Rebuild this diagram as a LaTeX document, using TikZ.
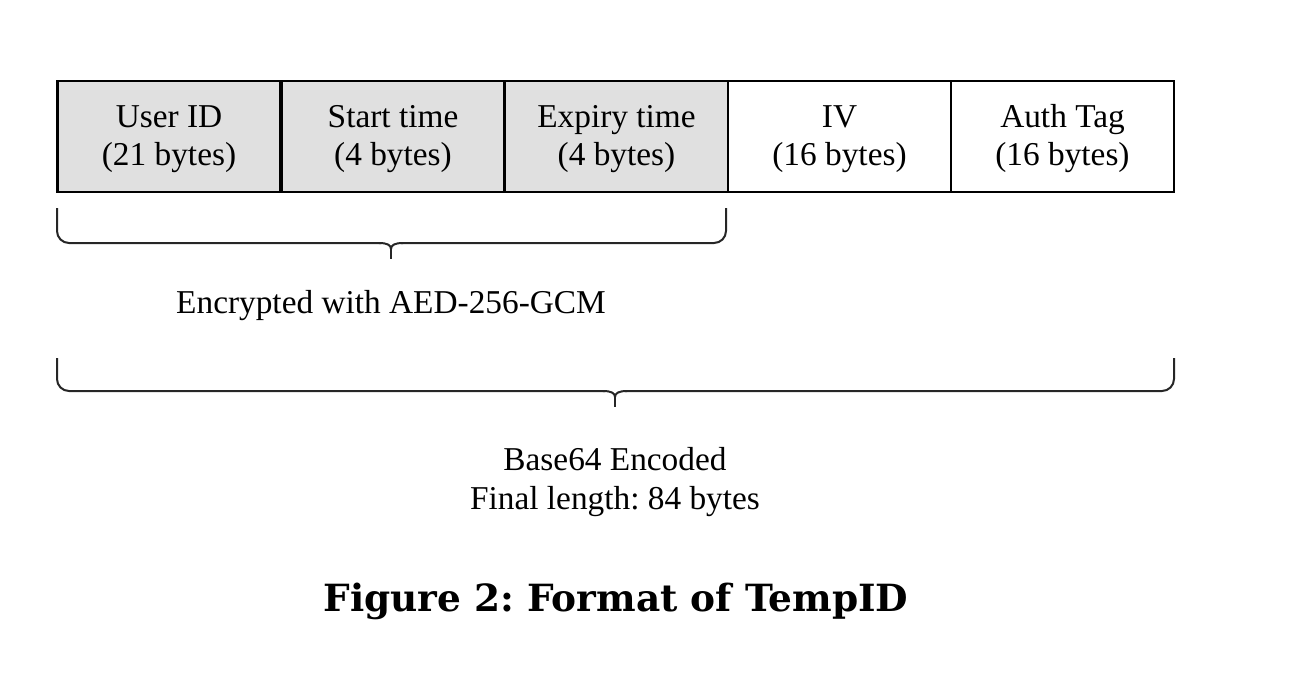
\documentclass[tikz,border=0pt]{standalone}
\usepackage{fontspec}
\setmainfont{Liberation Serif}
\newfontfamily\capfont{DejaVu Serif}
\frenchspacing
\begin{document}
\begin{tikzpicture}[x=0.75pt,y=-0.75pt,
  cell/.style={draw=black,line width=1.8pt,minimum height=83.25pt,minimum width=167.5pt,
    align=center,font=\fontsize{25}{29}\selectfont,inner sep=0pt},
  enc/.style={cell,fill=black!12},
  plain/.style={cell,fill=white},
  brace/.style={draw=black!85,line width=1.5pt,rounded corners=9pt},
  lbl/.style={align=center,font=\fontsize{25}{29}\selectfont,inner sep=0pt},
  captext/.style={font=\capfont\bfseries\fontsize{28.1}{34}\selectfont,inner sep=0pt}]
\useasboundingbox (0,0) rectangle (1314,682);
\node[enc] (uid) at (169,136.5) {\strut User ID\\(21 bytes)};
\node[enc] (st) at (393,136.5) {\strut Start time\\(4 bytes)};
\node[enc] (ex) at (616.5,136.5) {\strut Expiry time\\(4 bytes)};
\node[plain] (iv) at (839.5,136.5) {\strut IV\\(16 bytes)};
\node[plain] (tag) at (1062.5,136.5) {\strut Auth Tag\\(16 bytes)};
% brace 1
\coordinate (b1l) at (57,208);
\coordinate (b1r) at (726,208);
\coordinate (b1t) at (391,259);
\draw[brace] (b1l) -- (57,243) -- (381,243);
\draw[brace] (b1r) -- (726,243) -- (401,243);
\draw[draw=black!85,line width=1.5pt] (379,243) .. controls (387,243) and (391,245) .. (391,249) .. controls (391,245) and (395,243) .. (403,243);
\draw[draw=black!85,line width=1.5pt] (391,248) -- (b1t);
\node[lbl] (encl) at (391,306) {\strut Encrypted with AED-256-GCM};
% brace 2
\coordinate (b2l) at (57,358);
\coordinate (b2r) at (1174,358);
\coordinate (b2t) at (615,407);
\draw[brace] (b2l) -- (57,391) -- (605,391);
\draw[brace] (b2r) -- (1174,391) -- (625,391);
\draw[draw=black!85,line width=1.5pt] (603,391) .. controls (611,391) and (615,393) .. (615,397) .. controls (615,393) and (619,391) .. (627,391);
\draw[draw=black!85,line width=1.5pt] (615,396) -- (b2t);
\node[lbl] (b64) at (615,482) {\strut Base64 Encoded\\Final length: 84 bytes\strut};
\node[captext] (fig) at (616,601) {Figure 2: Format of TempID};
\end{tikzpicture}
\end{document}
